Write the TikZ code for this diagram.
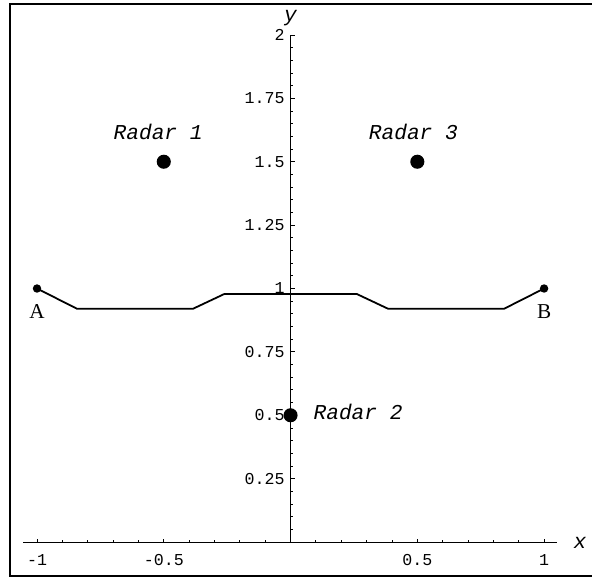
\documentclass[tikz,border=0pt]{standalone}
\usepackage{fontspec}
\setmainfont{Liberation Serif}
\newfontfamily\courierfont{Liberation Mono}
\usetikzlibrary{positioning}
\tikzset{
    frameline/.style={line width=0.8pt, black},
    axisline/.style={line width=0.5pt, black},
    tickline/.style={line width=0.45pt, black},
    ticklabel/.style={font=\courierfont\fontsize{8.4}{10}\selectfont, inner sep=0pt},
    axislabel/.style={font=\courierfont\itshape\fontsize{10.7}{12}\selectfont, inner sep=0pt},
    radar/.style={circle, fill=black, inner sep=0pt, minimum size=0.25cm},
    radarlabel/.style={font=\courierfont\itshape\fontsize{10.7}{12}\selectfont, inner sep=0pt},
    endpoint/.style={circle, fill=black, inner sep=0pt, minimum size=0.15cm},
    endlabel/.style={font=\fontsize{10.7}{12}\selectfont, inner sep=0pt},
    route/.style={line width=0.9pt, black, line join=miter},
}

\begin{document}
\begin{tikzpicture}[x=4.5cm, y=4.5cm]
    \useasboundingbox (-1.146,-0.138) rectangle (1.189,2.138);

    % Frame
    \draw[frameline] (1.189,2.122) -- (-1.1065,2.122) -- (-1.1065,-0.134) -- (1.189,-0.134);

    % Axes
    \coordinate (xstart) at (-1.055,0);
    \coordinate (xend) at (1.051,0);
    \coordinate (ystart) at (0,0);
    \coordinate (yend) at (0,2);
    \draw[axisline] (xstart) -- (xend);
    \draw[axisline] (ystart) -- (yend);
    \node[axislabel] (xlab) at (1.142,-0.004) {x};
    \node[axislabel] (ylab) at (0,2.066) {y};

    % Ticks on x
    \foreach \x in {-0.9,-0.8,-0.7,-0.6,-0.4,-0.3,-0.2,-0.1,0.1,0.2,0.3,0.4,0.6,0.7,0.8,0.9} {
        \draw[tickline] (\x,0) -- (\x,0.007);
    }
    \foreach \x/\label in {-1/-1, -0.5/-0.5, 0.5/0.5, 1/1} {
        \draw[tickline] (\x,0) -- (\x,0.013);
        \node[ticklabel] (xt\label) at (\x,-0.071) {\label};
    }

    % Ticks on y
    \foreach \y in {0.05,0.1,0.15,0.2,0.3,0.35,0.4,0.45,0.55,0.6,0.65,0.7,0.8,0.85,0.9,0.95,
                    1.05,1.1,1.15,1.2,1.3,1.35,1.4,1.45,1.55,1.6,1.65,1.7,1.8,1.85,1.9,1.95} {
        \draw[tickline] (0,\y) -- (0.011,\y);
    }
    \foreach \y/\label in {0.25/0.25, 0.5/0.5, 0.75/0.75, 1/1, 1.25/1.25, 1.5/1.5, 1.75/1.75, 2/2} {
        \draw[tickline] (0,\y) -- (0.017,\y);
        \node[ticklabel, anchor=east] (yt\label) at (-0.022,\y) {\label};
    }

    % Radars
    \node[radar] (R1) at (-0.5,1.5) {};
    \node[radar] (R2) at (0,0.5) {};
    \node[radar] (R3) at (0.5,1.5) {};
    \node[radarlabel, above=0.25cm of R1, xshift=-0.1cm] (L1) {Radar 1};
    \node[radarlabel, right=0.27cm of R2, yshift=0.06cm] (L2) {Radar 2};
    \node[radarlabel, above=0.25cm of R3, xshift=-0.07cm] (L3) {Radar 3};

    % Route
    \node[endpoint] (A) at (-1,1) {};
    \node[endpoint] (B) at (1,1) {};
    \node[endlabel, below=0.2cm of A] (LA) {A};
    \node[endlabel, below=0.2cm of B] (LB) {B};
    \coordinate (P1) at (-0.842,0.92);
    \coordinate (P2) at (-0.385,0.92);
    \coordinate (P3) at (-0.262,0.978);
    \coordinate (P4) at (0.262,0.978);
    \coordinate (P5) at (0.385,0.92);
    \coordinate (P6) at (0.842,0.92);
    \draw[route] (A.center) -- (P1) -- (P2) -- (P3) -- (P4) -- (P5) -- (P6) -- (B.center);
\end{tikzpicture}
\end{document}
